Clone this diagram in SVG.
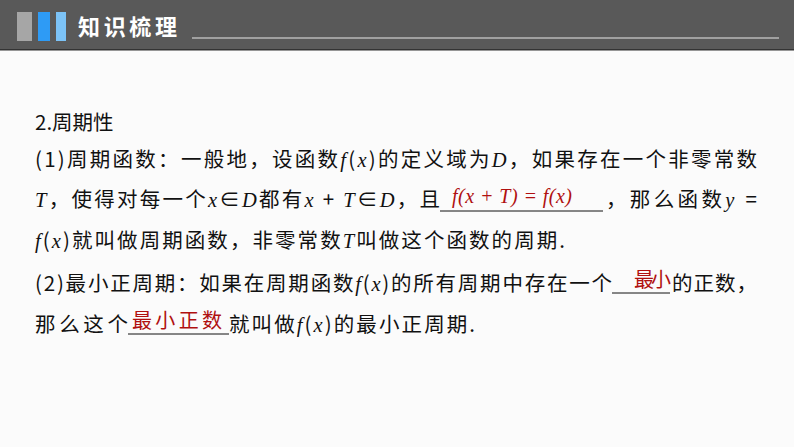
<svg xmlns="http://www.w3.org/2000/svg" width="794" height="447" viewBox="0 0 794 447">
<style>
.t{font-family:"Noto Sans CJK SC",sans-serif;font-size:20.5px;fill:#111}
.i{font-family:"Liberation Serif",serif;font-style:italic}
.r{font-family:"Liberation Serif",serif;font-style:italic;font-size:20px;fill:#b01010}
.rc{font-family:"Noto Sans CJK SC",sans-serif;font-size:20px;fill:#b01010}
.u{stroke:#111;stroke-width:1}
</style>
<rect width="794" height="447" fill="#fbfbfb"/>
<g id="header">
<rect x="0" y="0" width="794" height="49" fill="#595959"/>
<rect x="0" y="49" width="794" height="1.5" fill="#333"/>
<rect x="17" y="12" width="15" height="29" fill="#a6a6a6"/>
<rect x="38" y="12" width="12" height="29" fill="#2e9bf5"/>
<rect x="56" y="12" width="10" height="29" fill="#7cc3f7"/>
<text x="78" y="35" font-family="Noto Sans CJK SC,sans-serif" font-size="22" font-weight="bold" fill="#fff" textLength="99">知识梳理</text>
<line x1="192" y1="38" x2="779" y2="38" stroke="#e8e8e8" stroke-width="1.2"/>
</g>
<g id="body">
<text class="t" x="35" y="130">2.周期性</text>
<text class="t" x="35" y="167" textLength="722">(1)周期函数：一般地，设函数<tspan class="i">f</tspan>(<tspan class="i">x</tspan>)的定义域为<tspan class="i">D</tspan>，如果存在一个非零常数</text>
<text class="t" x="35" y="207" textLength="405"><tspan class="i">T</tspan>，使得对每一个<tspan class="i">x</tspan>∈<tspan class="i">D</tspan>都有<tspan class="i">x</tspan> + <tspan class="i">T</tspan>∈<tspan class="i">D</tspan>，且</text>
<line class="u" x1="440" y1="211" x2="603" y2="211"/>
<text class="r" x="452" y="203" textLength="120">f(x + T) = f(x)</text>
<text class="t" x="606" y="207" textLength="151">，那么函数<tspan class="i">y</tspan> =</text>
<text class="t" x="35" y="248" textLength="530"><tspan class="i">f</tspan>(<tspan class="i">x</tspan>)就叫做周期函数，非零常数<tspan class="i">T</tspan>叫做这个函数的周期.</text>
<text class="t" x="35" y="291" textLength="577">(2)最小正周期：如果在周期函数<tspan class="i">f</tspan>(<tspan class="i">x</tspan>)的所有周期中存在一个</text>
<line class="u" x1="612" y1="293" x2="670" y2="293"/>
<text class="rc" x="634" y="287" textLength="37">最小</text>
<text class="t" x="672" y="291" textLength="85">的正数，</text>
<text class="t" x="35" y="332" textLength="93">那么这个</text>
<line class="u" x1="128" y1="334" x2="229" y2="334"/>
<text class="rc" x="132" y="328" textLength="90">最小正数</text>
<text class="t" x="229" y="332" textLength="246">就叫做<tspan class="i">f</tspan>(<tspan class="i">x</tspan>)的最小正周期.</text>
</g>
</svg>
